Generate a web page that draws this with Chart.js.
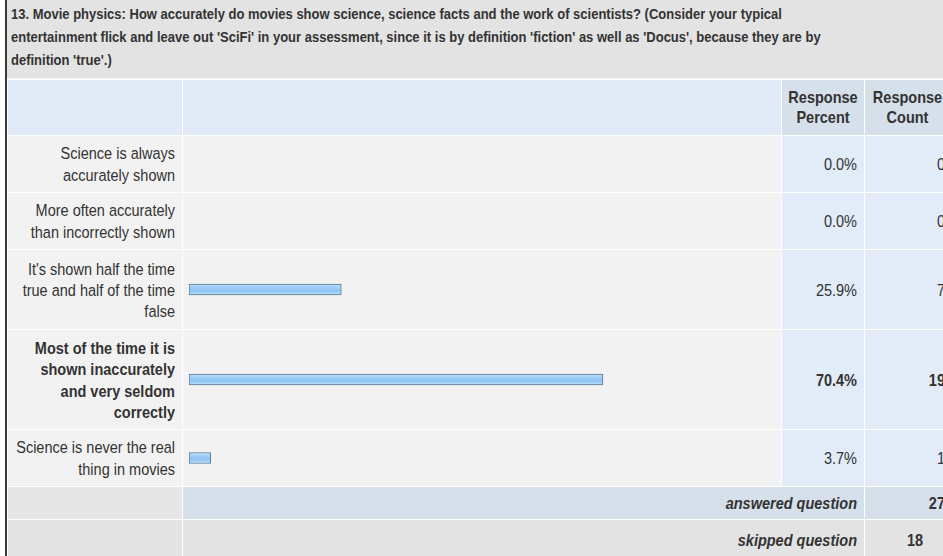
<!DOCTYPE html>
<html>
<head>
<meta charset="utf-8">
<script src="https://cdn.jsdelivr.net/npm/chart.js@4.4.1/dist/chart.umd.min.js"></script>
<style>
  html, body {
    margin: 0;
    padding: 0;
    width: 943px;
    height: 556px;
    overflow: hidden;
    background: #ffffff;
    font-family: "Liberation Sans", Arial, sans-serif;
    color: #333333;
  }
  .frame {
    position: absolute;
    left: 5px;
    top: 0;
    width: 960px;
    height: 560px;
    border-left: 2px solid #3a3a3a;
  }
  /* the screenshot is stretched a little vertically; text follows it */
  .tall {
    display: inline-block;
    transform: scaleY(1.18);
  }
  .question {
    background: #e3e3e3;
    height: 79px;
    box-sizing: border-box;
    padding: 2px 0 0 4px;
    font-size: 13px;
    font-weight: bold;
    line-height: 19.5px;
    white-space: nowrap;
    border-bottom: 1px solid #f4f6f8;
  }
  .question .tall { transform-origin: 0 0; }
  table {
    border-collapse: collapse;
    table-layout: fixed;
    width: 943px;
    font-size: 14.5px;
    line-height: 18px;
  }
  td {
    border: 1px solid #ffffff;
    padding: 0 7px;
    vertical-align: middle;
  }
  td.label {
    text-align: right;
    white-space: pre;
    background: #f2f2f2;
  }
  td.label.top, td.strong { font-weight: bold; }
  td.bar {
    background: #f2f2f2;
    padding: 0;
    position: relative;
  }
  td.bar canvas {
    position: absolute;
    left: 0;
    top: 0;
  }
  td.pct, td.cnt {
    background: #e1ecf8;
    text-align: right;
  }
  td.cnt { padding-right: 5px; }
  tr.head td {
    background: #e1ebf7;
    font-weight: bold;
    line-height: 17px;
  }
  tr.head td.colhead {
    background: #d5e0eb;
    text-align: center;
    padding: 0 1px;
    white-space: nowrap;
  }
  tr.foot td {
    font-weight: bold;
    font-style: italic;
    text-align: right;
  }
  tr.answered td { background: #d5e0eb; }
  tr.answered td.blank { background: #e6e6e6; }
  tr.skipped td { background: #e3e3e3; }
  tr.foot td.num { font-style: normal; padding-right: 5px; }
  tr.skipped td.num { text-align: left; padding-left: 42px; }

  #rows tr:nth-child(1) { height: 56px; }
  #rows tr:nth-child(2) { height: 57px; }
  #rows tr:nth-child(3) { height: 57px; }
  #rows tr:nth-child(4) { height: 80px; }
  #rows tr:nth-child(5) { height: 100px; }
  #rows tr:nth-child(6) { height: 57px; }
  #rows tr:nth-child(7) { height: 33px; }
  #rows tr:nth-child(8) { height: 40px; }
</style>
</head>
<body>

<div class="frame">
  <div class="question"><span class="tall" id="question"></span></div>
  <table id="grid">
    <colgroup>
      <col style="width:175px">
      <col style="width:599px">
      <col style="width:83px">
      <col style="width:86px">
    </colgroup>
    <tbody id="rows"></tbody>
  </table>
</div>

<script>

// =========================
// Survey Data
// =========================

const questionLines = [
    "13. Movie physics: How accurately do movies show science, science facts and the work of scientists? (Consider your typical",
    "entertainment flick and leave out 'SciFi' in your assessment, since it is by definition 'fiction' as well as 'Docus', because they are by",
    "definition 'true'.)"
];

const answerLabels = [
    "Science is always\naccurately shown",
    "More often accurately\nthan incorrectly shown",
    "It's shown half the time\ntrue and half of the time\nfalse",
    "Most of the time it is\nshown inaccurately\nand very seldom\ncorrectly",
    "Science is never the real\nthing in movies"
];

const responsePercent = [0.0, 0.0, 25.9, 70.4, 3.7];

const responseCount = [0, 0, 7, 19, 1];

const answeredQuestion = 27;
const skippedQuestion = 18;

const percentTicks = [0, 100];

// =========================
// Table
// =========================

function tall(text) {
    const span = document.createElement("span");
    span.className = "tall";
    span.textContent = text;
    return span;
}

document.getElementById("question").innerHTML =
    questionLines.join("<br>");

const rows = document.getElementById("rows");

const head = document.createElement("tr");
head.className = "head";
head.innerHTML =
    "<td></td><td></td>" +
    "<td class='colhead'><span class='tall'>Response<br>Percent</span></td>" +
    "<td class='colhead'><span class='tall'>Response<br>Count</span></td>";
rows.appendChild(head);

const topIndex =
    responsePercent.indexOf(Math.max(...responsePercent));

answerLabels.forEach((label, i) => {

    const tr = document.createElement("tr");

    const bold = i === topIndex ? " strong" : "";

    tr.innerHTML =
        "<td class='label'></td>" +
        "<td class='bar'><canvas></canvas></td>" +
        "<td class='pct" + bold + "'></td>" +
        "<td class='cnt" + bold + "'></td>";

    tr.querySelector(".label").appendChild(tall(label));
    if (bold) tr.querySelector(".label").classList.add("top");

    tr.querySelector(".pct").appendChild(
        tall(responsePercent[i].toFixed(1) + "%")
    );
    tr.querySelector(".cnt").appendChild(
        tall(String(responseCount[i]))
    );

    rows.appendChild(tr);
});

function footRow(cls, text, value) {

    const tr = document.createElement("tr");
    tr.className = "foot " + cls;

    tr.innerHTML =
        "<td class='blank'></td>" +
        "<td colspan='2' class='txt'></td>" +
        "<td class='num'></td>";

    tr.querySelector(".txt").appendChild(tall(text));
    tr.querySelector(".num").appendChild(tall(String(value)));

    rows.appendChild(tr);
}

footRow("answered", "answered question", answeredQuestion);
footRow("skipped", "skipped question", skippedQuestion);

// =========================
// Bars
// =========================

function barFill(context) {

    const chart = context.chart;
    const area = chart.chartArea;

    if (context.raw === 0) {
        return "rgba(0,0,0,0)";
    }

    if (!area) {
        return "#9ccbf6";
    }

    const mid = (area.top + area.bottom) / 2;

    const g = chart.ctx.createLinearGradient(0, mid - 5.5, 0, mid + 5.5);
    g.addColorStop(0, "#c4e0fb");
    g.addColorStop(0.35, "#9ccbf7");
    g.addColorStop(0.65, "#8fc4f4");
    g.addColorStop(1, "#bfe6fb");

    return g;
}

document.querySelectorAll("td.bar").forEach((cell, i) => {

    const canvas = cell.querySelector("canvas");

    canvas.width = cell.clientWidth;
    canvas.height = cell.clientHeight;

    new Chart(canvas, {
        type: "bar",
        data: {
            labels: [answerLabels[i]],
            datasets: [{
                data: [responsePercent[i]],
                backgroundColor: barFill,
                borderColor: "#5a7896",
                borderWidth: responsePercent[i] > 0 ? 1 : 0,
                borderSkipped: false,
                barThickness: 11
            }]
        },
        options: {
            indexAxis: "y",
            responsive: false,
            animation: false,
            layout: {
                padding: { left: 6, right: 4, top: 0, bottom: 0 }
            },
            plugins: {
                legend: { display: false },
                tooltip: { enabled: false }
            },
            scales: {
                x: {
                    display: false,
                    min: percentTicks[0],
                    max: percentTicks[1]
                },
                y: {
                    display: false
                }
            }
        }
    });
});

</script>
</body>
</html>
